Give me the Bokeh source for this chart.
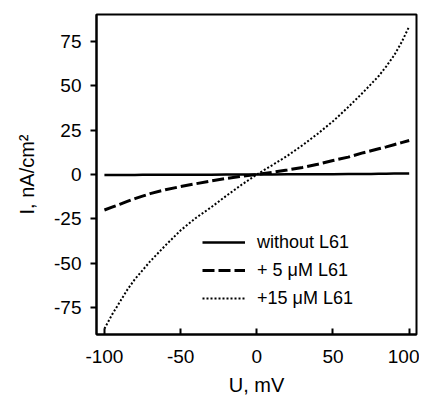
from bokeh.plotting import figure
from bokeh.models import Range1d, FixedTicker, Legend, LegendItem
from bokeh.embed import file_html
from bokeh.resources import INLINE

# Data
U = [-100, -95, -90, -85, -80, -75, -70, -60, -50, -40, -30, -20, -10, 0,
     10, 20, 30, 40, 50, 60, 70, 75, 80, 85, 90, 95, 100]
I_without = [-0.3, -0.3, -0.3, -0.3, -0.25, -0.2, -0.2, -0.2, -0.2, -0.15, -0.1, -0.05, 0.0, 0.0,
             0.05, 0.1, 0.1, 0.15, 0.2, 0.25, 0.3, 0.35, 0.4, 0.45, 0.5, 0.55, 0.6]
I_5uM = [-20.0, -18.4, -16.8, -15.2, -13.6, -12.2, -10.8, -8.6, -6.8, -5.2, -3.6, -2.2, -1.0, 0.0,
         1.2, 2.5, 4.0, 5.8, 7.9, 9.8, 12.3, 13.4, 14.5, 15.6, 16.8, 18.0, 19.2]
I_15uM = [-87.0, -79.0, -72.0, -65.0, -59.0, -54.0, -49.0, -40.0, -31.5, -24.5, -18.5, -12.0, -5.8, 0.0,
          5.2, 10.5, 16.5, 23.0, 30.0, 38.0, 46.5, 51.0, 55.5, 61.0, 67.0, 74.5, 83.5]

series_labels = ["without L61", "+ 5 \u03bcM L61", "+15 \u03bcM L61"]
xticks = [-100, -50, 0, 50, 100]
xtick_labels = ["-100", "-50", "0", "50", "100"]
yticks = [-75, -50, -25, 0, 25, 50, 75]
ytick_labels = ["-75", "-50", "-25", "0", "25", "50", "75"]
x_label = "U, mV"
y_label = "I, nA/cm\u00b2"

FONT = "Liberation Sans"

p = figure(width=419, height=398, output_backend="svg", toolbar_location=None,
           x_range=Range1d(-105.2, 104.8), y_range=Range1d(-90.2, 90.2),
           min_border_left=96, min_border_right=3, min_border_top=14,
           min_border_bottom=63)
p.grid.visible = False
p.background_fill_color = "white"
p.border_fill_color = "white"
p.outline_line_color = "black"
p.outline_line_width = 2

r1 = p.line(U, I_without, line_color="black", line_width=2.5)
r2 = p.line(U, I_5uM, line_color="black", line_width=3, line_dash="12 4")
r3 = p.line(U, I_15uM, line_color="black", line_width=2, line_dash="2 2")

# axes
xa = p.xaxis[0]
xa.ticker = FixedTicker(ticks=xticks)
xa.major_label_overrides = {t: s for t, s in zip(xticks, xtick_labels)}
xa.major_tick_in = 6
xa.major_tick_out = 0
xa.minor_tick_in = 0
xa.minor_tick_out = 0
xa.major_tick_line_width = 2
xa.axis_line_width = 2
xa.major_label_standoff = 15
xa.major_label_text_font = FONT
xa.major_label_text_font_size = "19px"
xa.major_label_text_color = "black"
xa.axis_label = x_label
xa.axis_label_text_font = FONT
xa.axis_label_text_font_size = "20px"
xa.axis_label_text_font_style = "normal"
xa.axis_label_text_color = "black"
xa.axis_label_standoff = 8

ya = p.yaxis[0]
ya.ticker = FixedTicker(ticks=yticks)
ya.major_label_overrides = {t: s for t, s in zip(yticks, ytick_labels)}
ya.major_tick_in = 0
ya.major_tick_out = 6
ya.minor_tick_in = 0
ya.minor_tick_out = 0
ya.major_tick_line_width = 2
ya.axis_line_width = 2
ya.major_label_standoff = 9
ya.major_label_text_font = FONT
ya.major_label_text_font_size = "19px"
ya.major_label_text_color = "black"
ya.axis_label = y_label
ya.axis_label_text_font = FONT
ya.axis_label_text_font_size = "20px"
ya.axis_label_text_font_style = "normal"
ya.axis_label_text_color = "black"
ya.axis_label_standoff = 13

legend = Legend(items=[LegendItem(label=series_labels[0], renderers=[r1]),
                       LegendItem(label=series_labels[1], renderers=[r2]),
                       LegendItem(label=series_labels[2], renderers=[r3])],
                location=(106, 25))
legend.background_fill_alpha = 0
legend.border_line_alpha = 0
legend.padding = 0
legend.margin = 0
legend.spacing = 6
legend.glyph_width = 43
legend.glyph_height = 22
legend.label_height = 22
legend.label_standoff = 12
legend.label_text_font = FONT
legend.label_text_font_size = "18px"
legend.label_text_color = "black"
p.add_layout(legend, "center")

open("out.html", "w").write(file_html(p, INLINE))
